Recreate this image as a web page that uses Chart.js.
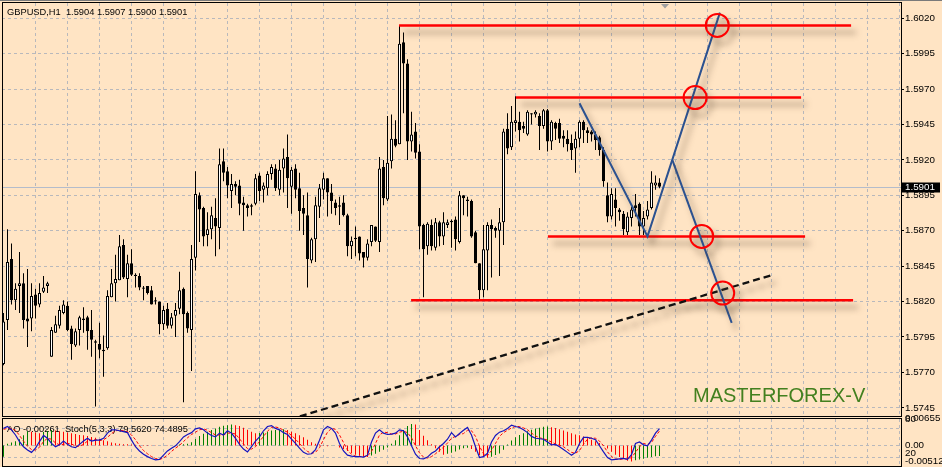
<!DOCTYPE html>
<html>
<head>
<meta charset="utf-8">
<script src="https://cdn.jsdelivr.net/npm/chart.js@4.4.0/dist/chart.umd.min.js"></script>
<style>
  html, body { margin: 0; padding: 0; background: #ffe4c4; overflow: hidden; }
  #wrap { position: relative; width: 942px; height: 467px; }
  #main { position: absolute; left: 0; top: 0; }
  #sub { position: absolute; left: 0; top: 405px; }
</style>
</head>
<body>
<div id="wrap">
  <canvas id="main" width="942" height="418"></canvas>
  <canvas id="sub" width="942" height="62"></canvas>
</div>
<script>
// ---- GBPUSD H1 candles ----
const open = [
1.5776,1.5807,1.5850,1.5821,1.5831,1.5833,1.5808,1.5808,1.5825,1.5818,
1.5827,1.5831,1.5781,1.5798,1.5803,1.5812,1.5817,1.5801,1.5789,1.5800,
1.5807,1.5809,1.5800,1.5792,1.5790,1.5786,1.5787,1.5823,1.5833,1.5835,
1.5860,1.5836,1.5847,1.5839,1.5838,1.5829,1.5831,1.5828,1.5821,1.5820,
1.5804,1.5815,1.5803,1.5810,1.5815,1.5829,1.5812,1.5800,1.5851,1.5895,
1.5886,1.5867,1.5871,1.5879,1.5872,1.5919,1.5912,1.5898,1.5903,1.5902,
1.5890,1.5888,1.5888,1.5889,1.5909,1.5899,1.5900,1.5910,1.5914,1.5899,
1.5914,1.5922,1.5901,1.5914,1.5900,1.5886,1.5881,1.5849,1.5864,1.5887,
1.5899,1.5907,1.5897,1.5890,1.5888,1.5890,1.5881,1.5859,1.5865,1.5866,
1.5855,1.5851,1.5862,1.5873,1.5862,1.5915,1.5892,1.5919,1.5935,1.5931,
1.6003,1.5988,1.5933,1.5940,1.5926,1.5874,1.5859,1.5874,1.5858,1.5876,
1.5866,1.5874,1.5876,1.5878,1.5862,1.5895,1.5892,1.5891,1.5869,1.5847,
1.5828,1.5856,1.5874,1.5872,1.5870,1.5876,1.5942,1.5929,1.5946,1.5947,
1.5944,1.5938,1.5952,1.5952,1.5951,1.5944,1.5955,1.5933,1.5946,1.5946,
1.5937,1.5935,1.5932,1.5928,1.5935,1.5947,1.5941,1.5940,1.5938,1.5936,
1.5927,1.5895,1.5880,1.5892,1.5885,1.5882,1.5869,1.5879,1.5888,1.5889,
1.5873,1.5880,1.5886,1.5902,1.5904
];
const high = [
1.5812,1.5871,1.5861,1.5833,1.5855,1.5840,1.5843,1.5833,1.5829,1.5833,
1.5838,1.5834,1.5802,1.5810,1.5817,1.5821,1.5820,1.5803,1.5801,1.5810,
1.5816,1.5810,1.5814,1.5793,1.5805,1.5796,1.5828,1.5843,1.5853,1.5867,
1.5864,1.5853,1.5857,1.5840,1.5840,1.5831,1.5831,1.5831,1.5823,1.5820,
1.5817,1.5819,1.5812,1.5819,1.5841,1.5830,1.5813,1.5860,1.5912,1.5897,
1.5887,1.5883,1.5887,1.5893,1.5928,1.5928,1.5915,1.5910,1.5905,1.5906,
1.5894,1.5889,1.5889,1.5910,1.5911,1.5904,1.5912,1.5917,1.5917,1.5920,
1.5928,1.5938,1.5915,1.5917,1.5911,1.5895,1.5897,1.5865,1.5894,1.5903,
1.5911,1.5907,1.5903,1.5892,1.5894,1.5895,1.5882,1.5866,1.5873,1.5866,
1.5855,1.5864,1.5874,1.5873,1.5922,1.5920,1.5951,1.5952,1.5948,1.6015,
1.6010,1.5991,1.5954,1.5946,1.5931,1.5875,1.5876,1.5878,1.5879,1.5877,
1.5883,1.5878,1.5878,1.5880,1.5898,1.5895,1.5894,1.5892,1.5870,1.5847,
1.5874,1.5876,1.5878,1.5873,1.5886,1.5942,1.5953,1.5958,1.5965,1.5954,
1.5947,1.5955,1.5953,1.5955,1.5953,1.5956,1.5956,1.5948,1.5947,1.5949,
1.5941,1.5941,1.5938,1.5940,1.5948,1.5948,1.5943,1.5941,1.5940,1.5937,
1.5929,1.5904,1.5900,1.5900,1.5886,1.5884,1.5883,1.5887,1.5896,1.5890,
1.5884,1.5891,1.5912,1.5909,1.5907
];
const low = [
1.5775,1.5800,1.5818,1.5814,1.5812,1.5801,1.5788,1.5799,1.5808,1.5816,
1.5826,1.5826,1.5781,1.5798,1.5801,1.5811,1.5799,1.5779,1.5788,1.5789,
1.5798,1.5786,1.5781,1.5746,1.5780,1.5767,1.5786,1.5823,1.5820,1.5835,
1.5836,1.5823,1.5838,1.5830,1.5828,1.5821,1.5825,1.5818,1.5818,1.5797,
1.5800,1.5801,1.5801,1.5795,1.5811,1.5749,1.5798,1.5771,1.5842,1.5862,
1.5859,1.5859,1.5864,1.5852,1.5857,1.5905,1.5893,1.5886,1.5895,1.5881,
1.5870,1.5880,1.5881,1.5888,1.5891,1.5890,1.5895,1.5906,1.5898,1.5895,
1.5897,1.5886,1.5882,1.5893,1.5870,1.5867,1.5830,1.5847,1.5848,1.5879,
1.5892,1.5880,1.5882,1.5881,1.5874,1.5880,1.5852,1.5850,1.5852,1.5849,
1.5844,1.5849,1.5859,1.5862,1.5855,1.5888,1.5891,1.5914,1.5929,1.5931,
1.5953,1.5920,1.5926,1.5921,1.5857,1.5823,1.5853,1.5856,1.5856,1.5859,
1.5860,1.5872,1.5858,1.5856,1.5861,1.5881,1.5880,1.5865,1.5847,1.5821,
1.5823,1.5828,1.5837,1.5865,1.5838,1.5860,1.5924,1.5927,1.5940,1.5933,
1.5939,1.5937,1.5945,1.5950,1.5927,1.5942,1.5926,1.5927,1.5934,1.5932,
1.5929,1.5926,1.5920,1.5911,1.5929,1.5932,1.5932,1.5933,1.5927,1.5923,
1.5901,1.5876,1.5878,1.5873,1.5877,1.5867,1.5867,1.5873,1.5880,1.5867,
1.5867,1.5878,1.5885,1.5899,1.5900
];
const close = [
1.5806,1.5848,1.5821,1.5829,1.5833,1.5807,1.5806,1.5824,1.5817,1.5826,
1.5830,1.5833,1.5800,1.5804,1.5814,1.5818,1.5800,1.5790,1.5799,1.5809,
1.5808,1.5799,1.5793,1.5791,1.5786,1.5785,1.5824,1.5833,1.5836,1.5859,
1.5837,1.5847,1.5839,1.5838,1.5830,1.5830,1.5826,1.5818,1.5820,1.5804,
1.5814,1.5803,1.5809,1.5814,1.5828,1.5811,1.5801,1.5850,1.5896,1.5885,
1.5866,1.5871,1.5881,1.5873,1.5917,1.5911,1.5902,1.5903,1.5901,1.5889,
1.5888,1.5886,1.5887,1.5907,1.5898,1.5902,1.5910,1.5915,1.5900,1.5913,
1.5921,1.5907,1.5913,1.5899,1.5884,1.5882,1.5850,1.5864,1.5888,1.5900,
1.5907,1.5897,1.5891,1.5886,1.5887,1.5881,1.5859,1.5863,1.5864,1.5854,
1.5851,1.5861,1.5874,1.5863,1.5914,1.5893,1.5918,1.5935,1.5930,1.6002,
1.5988,1.5933,1.5938,1.5925,1.5873,1.5857,1.5875,1.5859,1.5876,1.5866,
1.5876,1.5876,1.5877,1.5864,1.5895,1.5893,1.5891,1.5866,1.5847,1.5828,
1.5857,1.5874,1.5871,1.5870,1.5876,1.5940,1.5928,1.5947,1.5948,1.5941,
1.5942,1.5954,1.5953,1.5954,1.5944,1.5955,1.5933,1.5947,1.5942,1.5935,
1.5935,1.5931,1.5927,1.5935,1.5947,1.5941,1.5939,1.5938,1.5934,1.5927,
1.5905,1.5880,1.5896,1.5886,1.5883,1.5871,1.5880,1.5885,1.5886,1.5873,
1.5879,1.5885,1.5904,1.5904,1.5901
];

// ---- Awesome Oscillator + Stochastic(5,3,3) ----
const ao = [
-0.0028,0.0004,0.0007,0.0010,0.0015,0.0025,0.0035,0.0034,0.0032,0.0030,
0.0033,0.0036,0.0038,0.0037,0.0035,0.0034,0.0032,0.0030,0.0028,0.0026,
0.0025,0.0023,0.0021,0.0019,0.0016,0.0013,0.0010,0.0007,0.0005,0.0004,
0.0003,0.00025,0.0002,0.00015,0.00012,0.0001,0.00008,0.00005,0.00003,0.0,
-0.00005,-0.0001,-0.00005,0.00005,0.0002,0.0003,0.0004,0.0008,0.0016,0.0023,
0.0029,0.0034,0.0038,0.0042,0.0046,0.0049,0.0050,0.0052,0.0050,0.0048,
0.0044,0.0039,0.0034,0.0030,0.0031,0.0032,0.0034,0.0037,0.0038,0.0039,
0.0040,0.0038,0.0034,0.0030,0.0025,0.0020,0.0014,0.0008,0.0004,0.0002,
0.0001,-0.0002,-0.0001,-0.00005,-0.0005,-0.0009,-0.0014,-0.0019,-0.0023,-0.0026,
-0.0028,-0.0029,-0.0025,-0.0021,-0.0016,-0.0011,-0.0005,0.0004,0.0013,0.0025,
0.0038,0.0048,0.0053,0.0052,0.0038,0.0024,0.0013,0.0003,-0.0007,-0.0016,
-0.0023,-0.0021,-0.0018,-0.0015,-0.0010,-0.0007,-0.0006,-0.0009,-0.0016,-0.0024,
-0.0029,-0.0031,-0.0028,-0.0024,-0.0020,-0.0011,0.0002,0.0012,0.0020,0.0026,
0.0030,0.0035,0.0039,0.0042,0.0044,0.0046,0.0047,0.0045,0.0043,0.0040,
0.0037,0.0034,0.0030,0.0027,0.0025,0.0022,0.0018,0.0014,0.0010,0.0006,
0.0001,-0.0008,-0.0016,-0.0023,-0.0029,-0.0034,-0.0038,-0.0040,-0.0037,-0.0035,
-0.0033,-0.0031,-0.0029,-0.0027,-0.00261
];
const stochMain = [
80,84,77,66,52,41,34,29,38,52,
65,59,48,41,45,53,46,41,39,46,
53,59,53,55,55,59,70,77,77,75,
73,71,55,41,32,25,20,16,13,14,
23,32,38,43,52,62,67,71,79,81,
77,70,65,62,70,66,75,70,59,46,
36,30,41,53,62,75,84,86,80,77,
71,67,57,48,38,29,25,26,35,55,
77,84,80,70,48,32,23,21,20,20,
19,23,51,70,77,70,67,68,70,77,
75,62,43,25,16,15,19,27,32,41,
48,57,71,62,69,76,82,66,41,18,
20,27,51,65,72,75,80,87,84,82,
77,71,63,59,58,57,51,45,46,41,
35,29,23,29,48,61,61,59,56,43,
30,18,13,14,15,16,14,24,48,51,
45,43,55,70,79.562
];
const stochSignal = [
78,80,80,76,65,53,42,35,34,40,
52,59,57,49,45,46,48,47,42,42,
46,53,55,56,54,56,61,69,75,76,
75,73,66,56,43,33,26,20,16,14,
17,23,31,38,44,52,60,67,72,77,
79,76,71,66,66,66,70,70,68,58,
47,37,36,41,52,63,74,82,83,81,
76,72,65,57,48,38,31,27,29,39,
56,72,80,78,66,50,34,25,21,20,
20,21,31,48,66,72,71,68,68,72,
74,71,60,43,28,19,17,20,26,33,
40,49,59,63,67,69,76,75,63,42,
26,22,33,48,63,71,76,81,84,84,
81,77,70,64,60,58,55,51,47,44,
41,35,29,27,33,46,57,60,59,53,
43,30,20,15,14,15,15,18,29,41,
48,46,50,63,74.4895
];

// ---- axis ticks ----
const yTicks = [1.5745,1.5770,1.5795,1.5820,1.5845,1.5870,1.5895,1.5920,1.5945,1.5970,1.5995,1.6020];
const aoTicks = [0.00655, 0, -0.00512];
const stochLevels = [80, 20];

// ---- drawn objects (bar index / price) ----
const levelPrice = [1.6015, 1.5964, 1.5866, 1.5821];
const levelFrom  = [98.9, 128.1, 136.1, 101.9];
const levelTo    = [211.9, 199.4, 200.4, 212.4];
const legAX = [144, 161, 179.1];
const legAY = [1.5960, 1.5866, 1.6024];
const legBX = [167.2, 182.05];
const legBY = [1.5920, 1.5805];
const circleX = [178.45, 172.9, 174.55, 179.8];
const circleY = [1.6015, 1.5964, 1.5866, 1.5826];
const trendX = [74.1, 192.45];
const trendY = [1.5739, 1.5839];

const last = close.length - 1;
const gridColor = '#b8b8bc';
const xMin = -0.375, xMax = 224.375;
Chart.defaults.font.family = '"Liberation Sans", Arial, sans-serif';

const pts = (xs, ys) => xs.map((x, i) => ({x: x, y: ys[i]}));
const idx = close.map((_, i) => i);

// no label padding: the plot box must sit exactly inside the frame
const noPad = s => { s.paddingTop = 0; s.paddingBottom = 0; s.paddingLeft = 0; s.paddingRight = 0; };

const xScale = {
  type: 'linear', min: xMin, max: xMax, offset: false,
  afterBuildTicks: s => { const t = []; for (let v = 8; v <= xMax; v += 8) t.push({value: v}); s.ticks = t; },
  afterFit: s => { s.height = 0; noPad(s); },
  ticks: {display: false},
  grid: {color: gridColor, drawTicks: false, offset: false},
  border: {display: false, dash: [3, 3]}
};

// shadow under hand-drawn objects
const shadow = {
  id: 'shadow',
  beforeDatasetDraw(chart, args) {
    if (!chart.data.datasets[args.index].shadow) return;
    const ctx = chart.ctx;
    ctx.save();
    ctx.shadowColor = 'rgba(90,70,50,0.55)';
    ctx.shadowBlur = 6;
    ctx.shadowOffsetX = 5;
    ctx.shadowOffsetY = 7;
  },
  afterDatasetDraw(chart, args) {
    if (chart.data.datasets[args.index].shadow) chart.ctx.restore();
  }
};

const mainDeco = {
  id: 'mainDeco',
  beforeDatasetsDraw(chart) {
    const {ctx, chartArea: a, scales: {y}} = chart;
    const py = Math.round(y.getPixelForValue(close[last])) + 0.5;
    ctx.save();
    ctx.strokeStyle = '#b4bccb';
    ctx.lineWidth = 1;
    ctx.beginPath(); ctx.moveTo(a.left, py); ctx.lineTo(a.right, py); ctx.stroke();
    ctx.restore();
  },
  afterDraw(chart) {
    const {ctx, scales: {y}} = chart;
    ctx.save();
    // window edge + frame
    ctx.strokeStyle = '#7a7a7a'; ctx.lineWidth = 1;
    ctx.beginPath(); ctx.moveTo(0, 0.5); ctx.lineTo(942, 0.5); ctx.stroke();
    ctx.strokeStyle = '#000';
    ctx.strokeRect(2.5, 2.5, 899, 414);
    // title
    ctx.fillStyle = '#000';
    ctx.font = '9.3px "Liberation Sans"';
    ctx.textBaseline = 'middle';
    ctx.fillText('GBPUSD,H1  ' + [open[last], high[last], low[last], close[last]].map(v => v.toFixed(4)).join(' '), 7, 12);
    // current price box
    const py = Math.round(y.getPixelForValue(close[last])) + 0.5;
    ctx.fillStyle = '#000';
    ctx.fillRect(902, py - 5, 38, 10);
    ctx.fillStyle = '#fff';
    ctx.font = '9.8px "Liberation Sans"';
    ctx.fillText(close[last].toFixed(4), 905, py);
    // shift marker
    ctx.fillStyle = '#a0a0a0';
    ctx.beginPath(); ctx.moveTo(661, 4); ctx.lineTo(669, 4); ctx.lineTo(665, 8.5); ctx.closePath(); ctx.fill();
    // watermark
    ctx.fillStyle = '#43801f';
    ctx.font = '20px "Liberation Sans"';
    ctx.fillText('MASTERFOREX-V', 693, 396);
    ctx.restore();
  }
};

new Chart(document.getElementById('main'), {
  type: 'bar',
  data: {
    datasets: [
      {type: 'bar', data: idx.map(i => ({x: i, y: [low[i], high[i]]})), backgroundColor: '#000',
       barThickness: 1, borderWidth: 0, inflateAmount: 0, grouped: false, order: 10},
      {type: 'bar', data: idx.map(i => ({x: i, y: [open[i], close[i]]})),
       backgroundColor: idx.map(i => close[i] >= open[i] ? '#ffffff' : '#000000'),
       borderColor: '#000', borderWidth: 1, borderSkipped: false, barThickness: 3, inflateAmount: 0, grouped: false, order: 9},
      ...levelPrice.map((p, k) => ({type: 'line', data: pts([levelFrom[k], levelTo[k]], [p, p]), borderColor: '#ff0000',
       borderWidth: 2.5, pointRadius: 0, shadow: true, order: 4})),
      {type: 'line', data: pts(trendX, trendY), borderColor: '#111', borderWidth: 2.3, borderDash: [7, 4], pointRadius: 0, shadow: true, order: 3},
      {type: 'line', data: pts(legAX, legAY), borderColor: '#2b5190', borderWidth: 2, pointRadius: 0, shadow: true, order: 2},
      {type: 'line', data: pts(legBX, legBY), borderColor: '#2b5190', borderWidth: 2, pointRadius: 0, shadow: true, order: 2},
      {type: 'line', data: pts(circleX, circleY), showLine: false, pointRadius: 11.5, pointHoverRadius: 11.5,
       pointBorderWidth: 2, pointBorderColor: '#ff0000', pointBackgroundColor: 'rgba(0,0,0,0)', shadow: true, order: 1}
    ]
  },
  options: {
    responsive: false, animation: false, devicePixelRatio: 1,
    layout: {autoPadding: false, padding: {left: 2, top: 3, right: 0, bottom: 1}},
    plugins: {legend: {display: false}, tooltip: {enabled: false}},
    events: [],
    scales: {
      x: xScale,
      y: {
        type: 'linear', position: 'right', min: 1.57385, max: 1.60308,
        afterBuildTicks: s => { s.ticks = yTicks.map(v => ({value: v})); },
        afterFit: s => { s.width = 41; noPad(s); },
        ticks: {color: '#000', font: {size: 9.8}, padding: 1, autoSkip: false, callback: v => v.toFixed(4)},
        grid: {color: gridColor, tickColor: '#000', tickLength: 3},
        border: {display: false, dash: [3, 3]}
      }
    }
  },
  plugins: [shadow, mainDeco]
});

// ---- oscillator window ----
const subDeco = {
  id: 'subDeco',
  beforeDatasetsDraw(chart) {
    const {ctx, chartArea: a, scales} = chart;
    ctx.save();
    ctx.strokeStyle = gridColor; ctx.lineWidth = 1; ctx.setLineDash([3, 3]);
    const ys = [scales.ao.getPixelForValue(0), ...stochLevels.map(v => scales.st.getPixelForValue(v))];
    ys.forEach(py => {
      py = Math.round(py) + 0.5;
      ctx.beginPath(); ctx.moveTo(a.left, py); ctx.lineTo(a.right, py); ctx.stroke();
    });
    ctx.setLineDash([]);
    ctx.fillStyle = '#000';
    ctx.font = '9.3px "Liberation Sans"';
    ctx.textBaseline = 'middle';
    ctx.fillText('AO ' + ao[last].toFixed(5) + '  Stoch(5,3,3) ' + stochMain[last].toFixed(4) + ' ' + stochSignal[last].toFixed(4), 7, 24);
    ctx.restore();
  },
  afterDraw(chart) {
    const {ctx, chartArea: a, scales} = chart;
    ctx.save();
    ctx.strokeStyle = '#000'; ctx.lineWidth = 1;
    ctx.strokeRect(2.5, 13.5, 899, 48);
    ctx.fillStyle = '#000';
    ctx.font = '9.8px "Liberation Sans"';
    ctx.textBaseline = 'middle';
    const fmt = v => v === 0 ? '0.00' : v.toFixed(5);
    ctx.fillText(fmt(aoTicks[0]), 905, a.top - 1);
    ctx.fillText(fmt(aoTicks[1]), 905, scales.ao.getPixelForValue(aoTicks[1]));
    ctx.fillText(fmt(aoTicks[2]), 905, a.bottom - 4.5);
    ctx.fillText(String(stochLevels[0]), 905, a.top);
    ctx.fillText(String(stochLevels[1]), 905, scales.st.getPixelForValue(stochLevels[1]) - 3);
    ctx.restore();
  }
};

new Chart(document.getElementById('sub'), {
  type: 'bar',
  data: {
    datasets: [
      {type: 'bar', yAxisID: 'ao', data: idx.map(i => ({x: i, y: ao[i]})),
       backgroundColor: ao.map((v, i) => i === 0 || v >= ao[i - 1] ? '#008000' : '#ff0000'),
       barThickness: 1, borderWidth: 0, inflateAmount: 0, grouped: false, order: 5},
      {type: 'line', yAxisID: 'st', data: idx.map(i => ({x: i, y: stochSignal[i]})), borderColor: '#ff0000',
       borderWidth: 1, borderDash: [3, 2], pointRadius: 0, order: 2},
      {type: 'line', yAxisID: 'st', data: idx.map(i => ({x: i, y: stochMain[i]})), borderColor: '#1414c0',
       borderWidth: 1.2, pointRadius: 0, order: 1}
    ]
  },
  options: {
    responsive: false, animation: false, devicePixelRatio: 1,
    layout: {autoPadding: false, padding: {left: 2, top: 14, right: 41, bottom: 1}},
    plugins: {legend: {display: false}, tooltip: {enabled: false}},
    events: [],
    scales: {
      x: xScale,
      ao: {type: 'linear', display: false, min: aoTicks[2], max: aoTicks[0]},
      st: {type: 'linear', display: false, min: 0, max: 100}
    }
  },
  plugins: [subDeco]
});
</script>
</body>
</html>
